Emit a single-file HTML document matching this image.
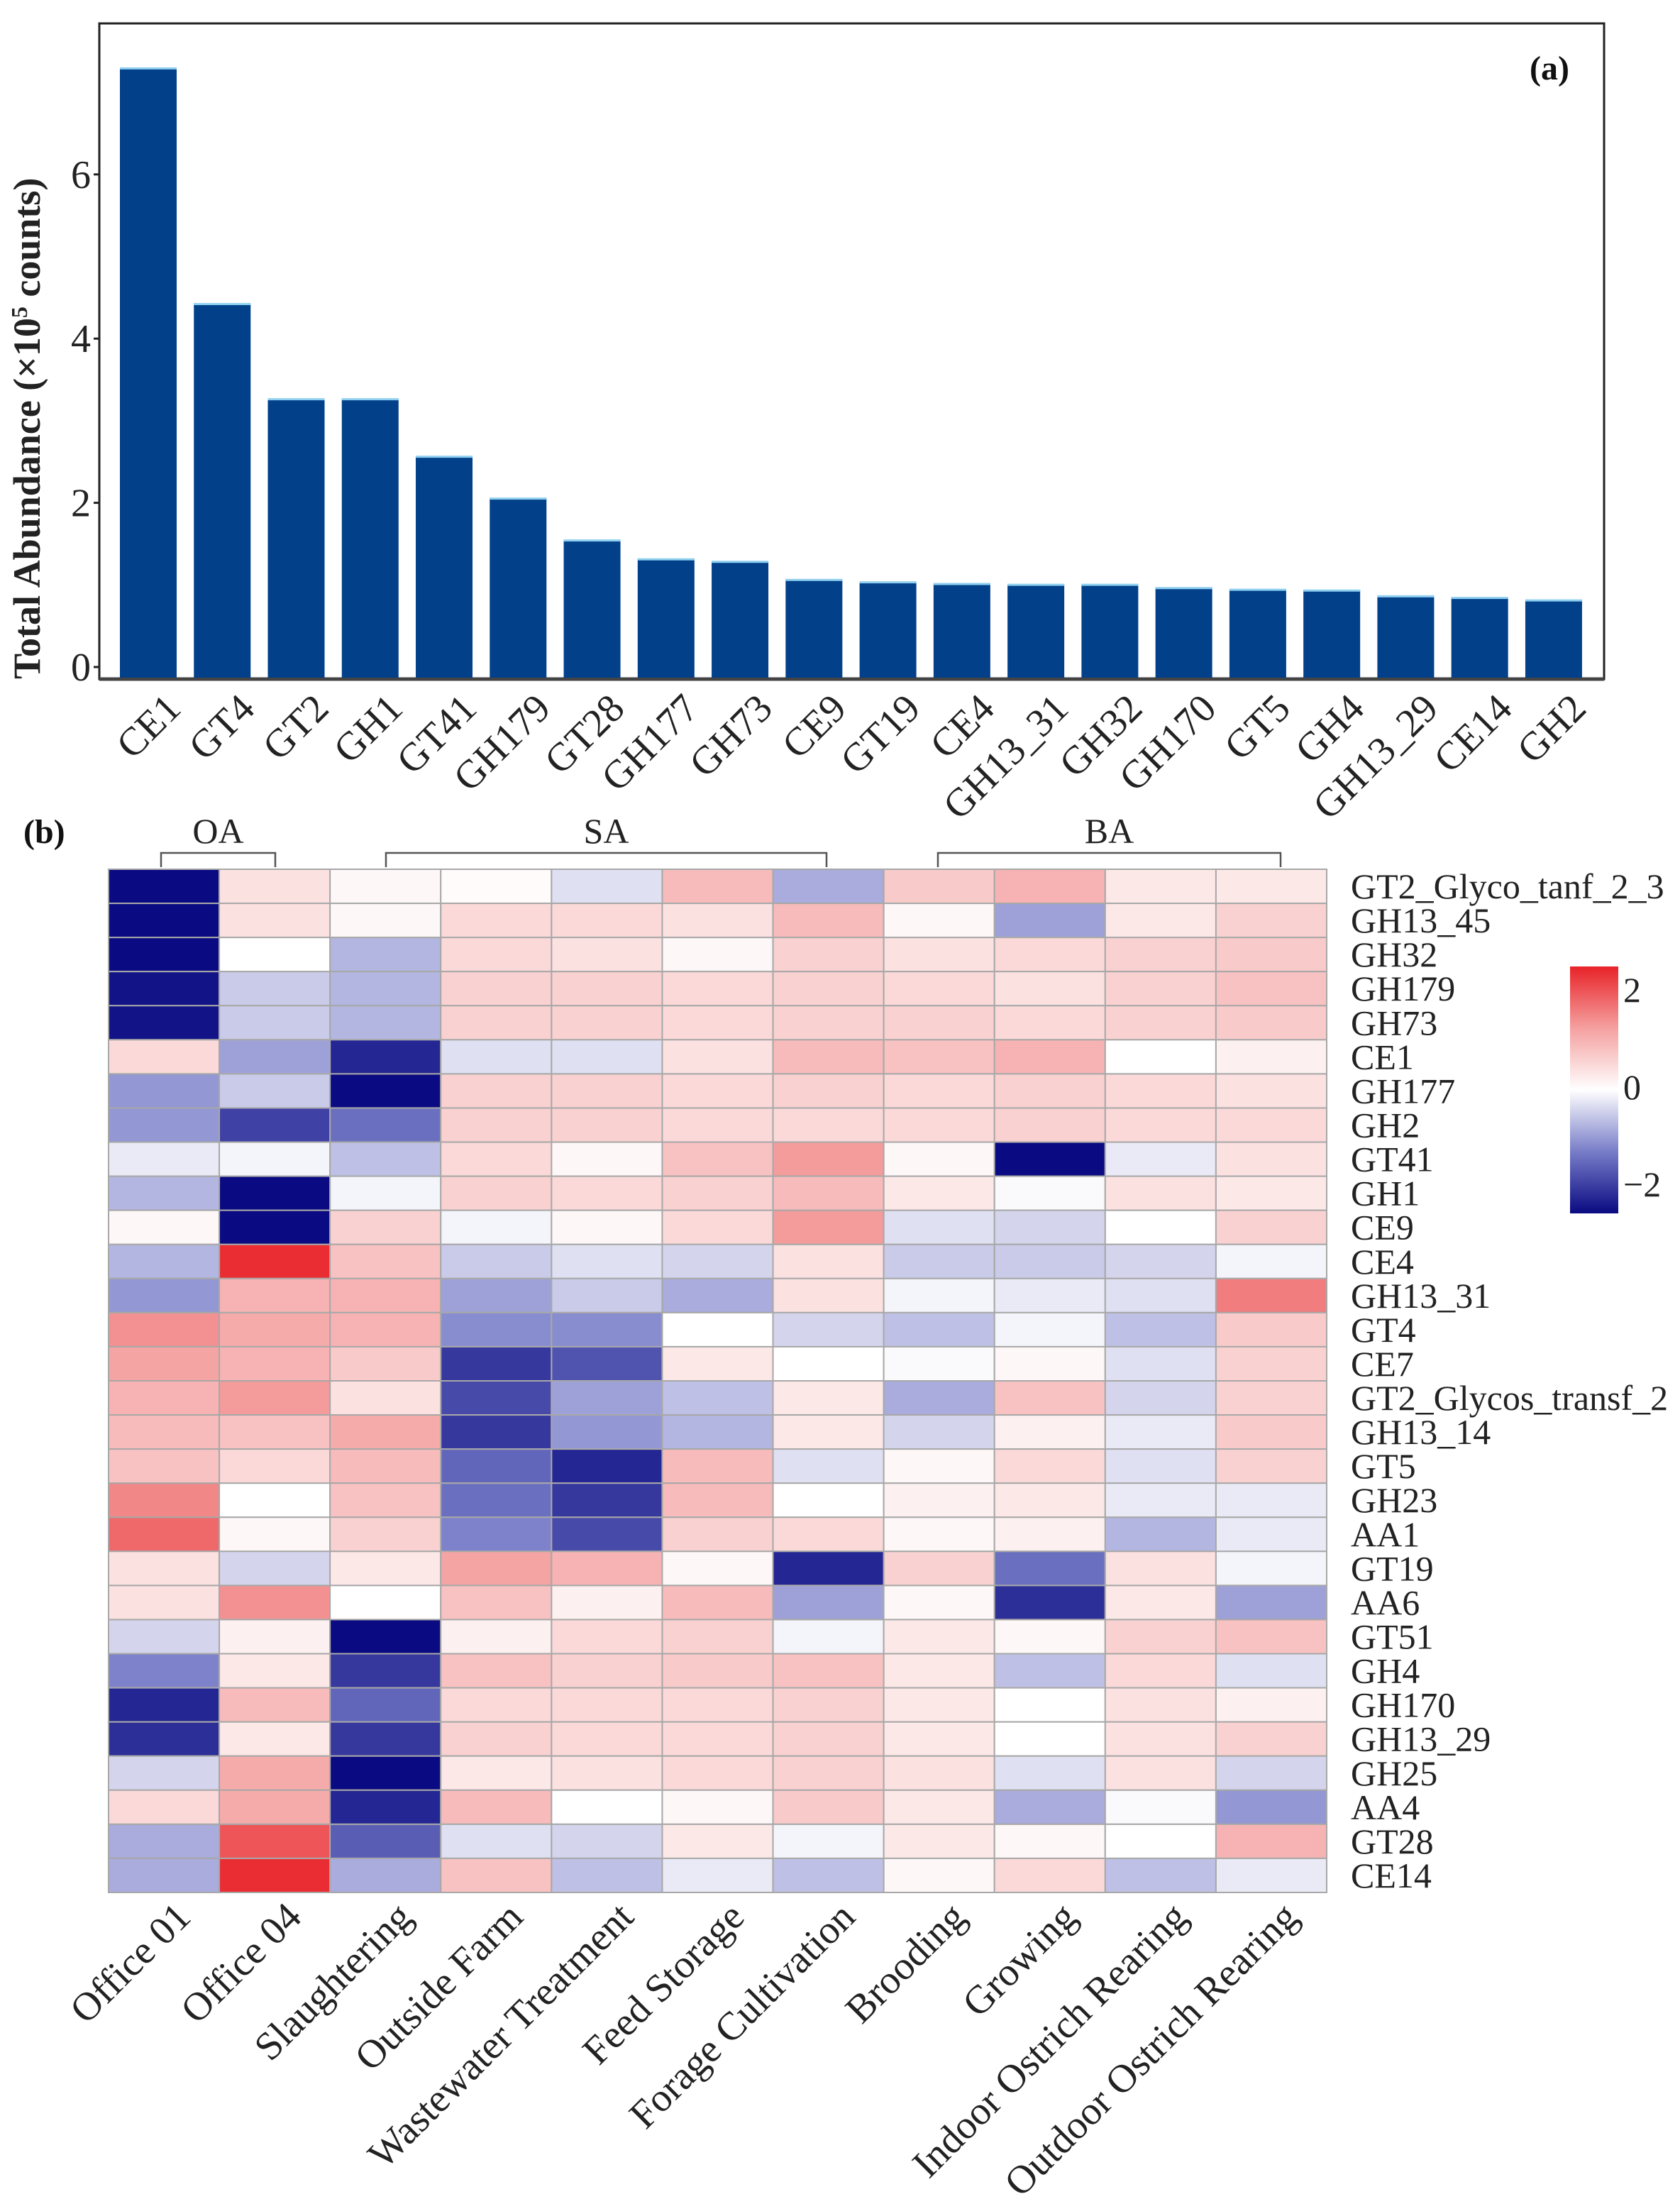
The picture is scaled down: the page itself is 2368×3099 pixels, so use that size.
<!DOCTYPE html>
<html><head><meta charset="utf-8"><style>
html,body{margin:0;padding:0;background:#fff}
svg{display:block;font-family:"Liberation Serif",serif}
</style></head><body>
<svg id="fig" width="2368" height="3099" viewBox="0 0 2368 3099" xmlns="http://www.w3.org/2000/svg">
<defs>
<linearGradient id="cbar" x1="0" y1="1" x2="0" y2="0">
<stop offset="0" stop-color="rgb(10,10,130)"/>
<stop offset="0.25" stop-color="rgb(120,125,200)"/>
<stop offset="0.5" stop-color="rgb(255,255,255)"/>
<stop offset="0.75" stop-color="rgb(245,160,160)"/>
<stop offset="1" stop-color="rgb(232,35,40)"/>
</linearGradient>
</defs>
<g id="barPanel"></g>
<g id="heatPanel"></g>
</svg>
<script>
const barCategories = ["CE1","GT4","GT2","GH1","GT41","GH179","GT28","GH177","GH73","CE9","GT19","CE4","GH13_31","GH32","GH170","GT5","GH4","GH13_29","CE14","GH2"];
const barValues = [7.3,4.43,3.27,3.27,2.57,2.06,1.55,1.32,1.29,1.07,1.04,1.02,1.01,1.01,0.97,0.95,0.94,0.87,0.85,0.82];
const yTicks = [0,2,4,6];

const heatCols = ["Office 01","Office 04","Slaughtering","Outside Farm","Wastewater Treatment","Feed Storage","Forage Cultivation","Brooding","Growing","Indoor Ostrich Rearing","Outdoor Ostrich Rearing"];
const heatRows = ["GT2_Glyco_tanf_2_3","GH13_45","GH32","GH179","GH73","CE1","GH177","GH2","GT41","GH1","CE9","CE4","GH13_31","GT4","CE7","GT2_Glycos_transf_2","GH13_14","GT5","GH23","AA1","GT19","AA6","GT51","GH4","GH170","GH13_29","GH25","AA4","GT28","CE14"];
const heatValues = [
[-2.5,0.4,0.1,0.05,-0.3,0.9,-0.8,0.7,1.0,0.3,0.3],
[-2.5,0.4,0.1,0.5,0.5,0.4,0.9,0.1,-0.9,0.3,0.6],
[-2.5,0.0,-0.7,0.5,0.4,0.1,0.6,0.4,0.5,0.6,0.7],
[-2.4,-0.5,-0.7,0.6,0.6,0.5,0.6,0.5,0.4,0.6,0.8],
[-2.4,-0.5,-0.7,0.6,0.6,0.5,0.6,0.6,0.5,0.6,0.7],
[0.5,-0.9,-2.2,-0.3,-0.3,0.4,0.9,0.8,1.0,0.0,0.2],
[-1.0,-0.5,-2.5,0.6,0.6,0.5,0.6,0.5,0.6,0.5,0.4],
[-1.0,-1.9,-1.4,0.6,0.6,0.5,0.5,0.5,0.6,0.5,0.5],
[-0.2,-0.1,-0.6,0.5,0.1,0.8,1.3,0.1,-2.5,-0.2,0.4],
[-0.7,-2.5,-0.1,0.6,0.5,0.6,0.9,0.3,-0.05,0.4,0.3],
[0.1,-2.5,0.6,-0.1,0.1,0.5,1.3,-0.3,-0.4,0.0,0.6],
[-0.7,2.4,0.8,-0.5,-0.3,-0.4,0.4,-0.5,-0.5,-0.4,-0.1],
[-1.0,1.0,1.0,-0.9,-0.5,-0.8,0.4,-0.1,-0.2,-0.3,1.6],
[1.4,1.1,1.0,-1.1,-1.1,0.0,-0.4,-0.6,-0.1,-0.6,0.7],
[1.2,1.0,0.7,-2.0,-1.7,0.3,0.0,-0.05,0.1,-0.3,0.6],
[1.0,1.3,0.4,-1.8,-0.9,-0.6,0.3,-0.8,0.8,-0.4,0.6],
[0.9,0.8,1.1,-2.0,-1.0,-0.7,0.3,-0.4,0.2,-0.2,0.7],
[0.8,0.5,0.9,-1.5,-2.2,0.9,-0.3,0.1,0.5,-0.3,0.6],
[1.5,0.0,0.8,-1.4,-2.0,0.9,0.0,0.2,0.3,-0.2,-0.2],
[1.8,0.1,0.6,-1.2,-1.8,0.6,0.5,0.1,0.2,-0.7,-0.2],
[0.4,-0.4,0.3,1.2,1.0,0.1,-2.2,0.6,-1.4,0.4,-0.1],
[0.4,1.4,0.0,0.8,0.2,0.9,-0.9,0.1,-2.1,0.3,-0.9],
[-0.4,0.2,-2.6,0.2,0.5,0.6,-0.1,0.3,0.1,0.6,0.8],
[-1.2,0.3,-2.0,0.8,0.6,0.7,0.8,0.3,-0.6,0.5,-0.3],
[-2.2,0.9,-1.5,0.5,0.5,0.5,0.6,0.3,0.0,0.4,0.2],
[-2.1,0.3,-2.0,0.6,0.5,0.5,0.6,0.3,0.0,0.4,0.6],
[-0.4,1.1,-2.6,0.3,0.4,0.5,0.6,0.4,-0.3,0.4,-0.4],
[0.5,1.1,-2.2,0.9,0.0,0.1,0.7,0.3,-0.8,-0.05,-1.0],
[-0.8,2.0,-1.6,-0.3,-0.4,0.3,-0.1,0.3,0.1,0.0,1.0],
[-0.8,2.4,-0.8,0.8,-0.6,-0.2,-0.6,0.1,0.5,-0.6,-0.2]
];
const groupLabels = ["OA","SA","BA"];
const legendTicks = [2,0,-2];

const NS="http://www.w3.org/2000/svg";
function mk(parent,tag,attrs,text){const e=document.createElementNS(NS,tag);for(const k in attrs)e.setAttribute(k,attrs[k]);if(text!==undefined)e.textContent=text;parent.appendChild(e);return e;}

// ---- bar chart ----
const bp=document.getElementById('barPanel');
const fx0=140,fx1=2261,fy0=33,fy1=957;
const yZero=940,yUnit=115.7;
const ys=v=>yZero-v*yUnit;
const step=104.26,bw=80,bx0=169;
const xs=i=>bx0+i*step;
const frame=mk(bp,'rect',{x:fx0,y:fy0,width:fx1-fx0,height:fy1-fy0,fill:'none',stroke:'#222','stroke-width':3});


const bl=mk(bp,'line',{x1:fx0,x2:fx1,y1:fy1,y2:fy1,stroke:'#444','stroke-width':5});


yTicks.forEach(t=>{
  const tk=mk(bp,'line',{x1:fx0-8,x2:fx0,y1:ys(t),y2:ys(t),stroke:'#222','stroke-width':3});
  
  
  const tl=mk(bp,'text',{x:fx0-12,y:ys(t)+19,'text-anchor':'end','font-size':56,fill:'#222'},String(t));
  
  
});
barCategories.forEach((c,i)=>{
  const v=barValues[i];
  const r=mk(bp,'rect',{x:xs(i),y:ys(v),width:bw,height:yZero-ys(v)+15,fill:'#02408a'});
  
  
  const e=mk(bp,'line',{x1:xs(i),x2:xs(i)+bw,y1:ys(v)+1,y2:ys(v)+1,stroke:'#8fd0f0','stroke-width':3});
  
  
  const cx=xs(i)+bw/2+20, cy=fy1+16;
  const l=mk(bp,'text',{x:cx,y:cy,'text-anchor':'end','font-size':56,fill:'#222',transform:`rotate(-45 ${cx} ${cy})`,dy:'0.72em'},c);
  
  
});
const yt=mk(bp,'text',{x:0,y:0,'text-anchor':'start','font-size':54,'font-weight':'bold',fill:'#222',transform:'translate(56 957) rotate(-90)'});


yt.innerHTML='Total Abundance (×10<tspan dy="-18" font-size="32">5</tspan><tspan dy="18"> counts)</tspan>';
const pa=mk(bp,'text',{x:2212,y:112,'text-anchor':'end','font-size':48,'font-weight':'bold',fill:'#111'},'(a)');



// ---- heatmap ----
const hp=document.getElementById('heatPanel');
const hx0=153,hy0=1225,cw=(1870-153)/11,rh=(2667-1225)/heatRows.length;
const cxs=j=>hx0+j*cw, rys=i=>hy0+i*rh;
function lerp(a,b,t){return a.map((x,k)=>Math.round(x+(b[k]-x)*t));}
function color(v){
  v=Math.max(-2.5,Math.min(2.5,v));
  const W=[255,255,255],B1=[120,125,200],B2=[10,10,130],R1=[245,160,160],R2=[232,35,40];
  let c;
  if(v<0){const a=-v; c=a<=1.25?lerp(W,B1,a/1.25):lerp(B1,B2,(a-1.25)/1.25);}
  else {c=v<=1.25?lerp(W,R1,v/1.25):lerp(R1,R2,(v-1.25)/1.25);}
  return `rgb(${c[0]},${c[1]},${c[2]})`;
}
heatRows.forEach((rn,i)=>{
  heatCols.forEach((cn,j)=>{
    const r=mk(hp,'rect',{x:cxs(j),y:rys(i),width:cw,height:rh,fill:color(heatValues[i][j]),stroke:'#a8a8a8','stroke-width':2});
    
    
  });
  const t=mk(hp,'text',{x:1904,y:rys(i)+rh/2+17,'font-size':50,fill:'#222'},rn);
  
  
});
heatCols.forEach((cn,j)=>{
  const cx=cxs(j)+cw/2+12, cy=2676;
  const t=mk(hp,'text',{x:cx,y:cy,'text-anchor':'end','font-size':56,fill:'#222',dy:'0.72em',transform:`rotate(-45 ${cx} ${cy})`},cn);
  
  
});
const bx=[[227,388],[544,1165],[1322,1805]];
groupLabels.forEach((g,k)=>{
  const a=bx[k][0],b=bx[k][1];
  const p=mk(hp,'path',{d:`M${a} 1222 V1202 H${b} V1222`,fill:'none',stroke:'#555','stroke-width':2.5});
  
  
  const t=mk(hp,'text',{x:(a+b)/2,y:1188,'text-anchor':'middle','font-size':50,fill:'#222'},g);
  
  
});
const pb=mk(hp,'text',{x:33,y:1188,'font-size':48,'font-weight':'bold',fill:'#111'},'(b)');


const cb=mk(hp,'rect',{x:2213,y:1362,width:68,height:348,fill:'url(#cbar)'});


const lg0=1532,lgU=68.5;
legendTicks.forEach(t=>{
  const l=mk(hp,'text',{x:2288,y:lg0-t*lgU+17,'font-size':50,fill:'#222'},t<0?'−'+Math.abs(t):String(t));
  
  
});
</script>
</body></html>
